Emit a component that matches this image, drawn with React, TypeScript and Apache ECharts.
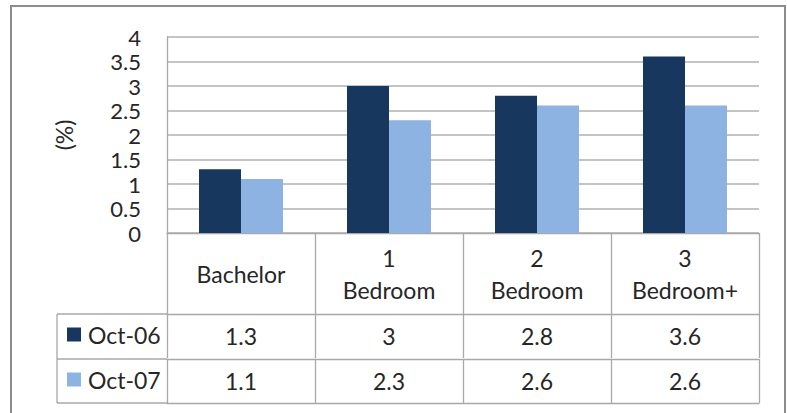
import React, { useEffect, useRef } from "react";
import * as echarts from "echarts";

const categories = ["Bachelor", "1\nBedroom", "2\nBedroom", "3\nBedroom+"];
const seriesNames = ["Oct-06", "Oct-07"];
const oct06 = [1.3, 3, 2.8, 3.6];
const oct07 = [1.1, 2.3, 2.6, 2.6];
const yMin = 0;
const yMax = 4;
const yInterval = 0.5;
const yName = "(%)";

const FONT = "Lato";
const TEXT = "#262626";
const LINE = "#A8A8A8";
const DARK = "#17375E";
const LIGHT = "#8DB3E2";

export default function App() {
  const ref = useRef<HTMLDivElement>(null);
  useEffect(() => {
    if (!ref.current) return;
    const chart = echarts.init(ref.current, undefined, { renderer: "svg" });
    const lineStyle = { color: LINE, width: 1.3 };
    const labelBase = {
      fontFamily: FONT,
      fontSize: 23,
      color: TEXT,
      verticalAlign: "middle" as const,
      interval: 0,
    };
    const rowValues = [oct06, oct07];
    chart.setOption({
      animation: false,
      backgroundColor: "#ffffff",
      textStyle: { fontFamily: FONT },
      grid: { left: 167, right: 28, top: 37, bottom: 180, containLabel: false },
      legend: {
        orient: "vertical",
        left: 67,
        top: 323,
        padding: 0,
        itemWidth: 14,
        itemHeight: 14,
        itemGap: 22,
        icon: "rect",
        data: seriesNames,
        textStyle: { fontFamily: FONT, fontSize: 23, color: TEXT, padding: [0, 0, 0, 2] },
        selectedMode: false,
      },
      xAxis: [
        {
          type: "category",
          data: categories,
          position: "bottom",
          axisLine: { show: true, lineStyle },
          axisTick: { show: true, length: 81, lineStyle },
          axisLabel: { ...labelBase, margin: 41, lineHeight: 32 },
          splitLine: { show: false },
        },
        ...rowValues.map((vals, i) => ({
          type: "category",
          data: categories,
          position: "bottom",
          offset: 81 + i * 45,
          axisLine: { show: true, lineStyle },
          axisTick: { show: true, length: 44, lineStyle },
          axisLabel: {
            ...labelBase,
            margin: 22,
            formatter: (_v: string, idx: number) => String(vals[idx]),
          },
          splitLine: { show: false },
        })),
        {
          type: "category",
          data: categories,
          position: "bottom",
          offset: 170,
          axisLine: { show: true, lineStyle },
          axisTick: { show: false },
          axisLabel: { show: false },
          splitLine: { show: false },
        },
      ],
      yAxis: {
        type: "value",
        min: yMin,
        max: yMax,
        interval: yInterval,
        name: yName,
        nameLocation: "middle",
        nameGap: 92,
        nameRotate: 90,
        nameTextStyle: { fontFamily: FONT, fontSize: 23, color: TEXT },
        axisLine: { show: true, lineStyle },
        axisTick: { show: false },
        axisLabel: { fontFamily: FONT, fontSize: 22, lineHeight: 22, color: TEXT, margin: 26 },
        splitLine: { show: true, lineStyle: { color: "#B0B0B0", width: 1.5 } },
      },
      series: [
        {
          name: seriesNames[0],
          type: "bar",
          data: oct06,
          barWidth: 42,
          barGap: "0%",
          itemStyle: { color: DARK },
        },
        {
          name: seriesNames[1],
          type: "bar",
          data: oct07,
          barWidth: 42,
          barGap: "0%",
          itemStyle: { color: LIGHT },
        },
      ],
      graphic: [
        {
          type: "rect",
          shape: { x: 11, y: 6, width: 774, height: 430 },
          style: { fill: "none", stroke: "#8C8C8C", lineWidth: 2 },
          silent: true,
        },
        {
          type: "line",
          shape: { x1: 57, y1: 314, x2: 167, y2: 314 },
          style: { stroke: LINE, lineWidth: 1.3 },
        },
        {
          type: "line",
          shape: { x1: 57, y1: 359, x2: 167, y2: 359 },
          style: { stroke: LINE, lineWidth: 1.3 },
        },
        {
          type: "line",
          shape: { x1: 57, y1: 403, x2: 167, y2: 403 },
          style: { stroke: LINE, lineWidth: 1.3 },
        },
        {
          type: "line",
          shape: { x1: 57, y1: 314, x2: 57, y2: 403 },
          style: { stroke: LINE, lineWidth: 1.3 },
        },
      ],
    });
    return () => chart.dispose();
  }, []);
  return (
    <div
      ref={ref}
      style={{ position: "fixed", left: 0, top: 0, width: 787, height: 413 }}
    />
  );
}
